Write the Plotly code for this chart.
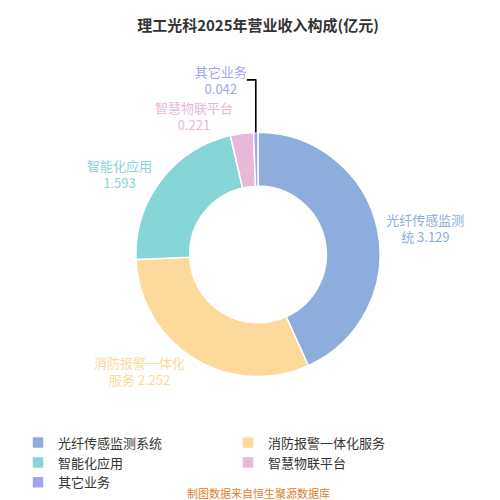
import plotly.graph_objects as go

categories = ["光纤传感监测系统", "消防报警一体化服务", "智能化应用", "智慧物联平台", "其它业务"]
values = [3.129, 2.252, 1.593, 0.221, 0.042]
label_text = ["光纤传感监测<br>统 3.129", "消防报警一体化<br>服务 2.252", "智能化应用<br>1.593", "智慧物联平台<br>0.221", "其它业务<br>0.042"]
colors = ["#8DAEDC", "#FDD99B", "#86D6D8", "#E8B8DA", "#A3A3F0"]

fig = go.Figure(go.Pie(
    labels=categories, values=values, hole=0.56, sort=False, direction="clockwise",
    rotation=0, text=label_text, texttemplate="%{text}", textinfo="text",
    textposition="outside", outsidetextfont=dict(color=colors, size=13),
    marker=dict(colors=colors, line=dict(color="white", width=1.5)),
    domain=dict(x=[0.24, 0.76], y=[0.26, 0.81]),
    hoverinfo="label+value",
))
fig.update_layout(
    width=500, height=500, paper_bgcolor="white", plot_bgcolor="white",
    margin=dict(l=10, r=10, t=40, b=10),
    font=dict(family="Noto Sans CJK SC"),
    title=dict(text="<b>理工光科2025年营业收入构成(亿元)</b>", x=0.5, y=0.975, xanchor="center",
               font=dict(size=15, color="#333")),
    legend=dict(orientation="h", x=0.0, xanchor="left", y=0.145, yanchor="top",
                font=dict(size=13, color="#333"), itemwidth=30,
                entrywidth=165, entrywidthmode="pixels"),
    annotations=[dict(text="制图数据来自恒生聚源数据库", x=0.5, y=-0.025, xref="paper", yref="paper",
                      xanchor="center", yanchor="bottom", showarrow=False,
                      font=dict(size=11, color="#D9822B"))],
)
fig.write_html("out.html")
